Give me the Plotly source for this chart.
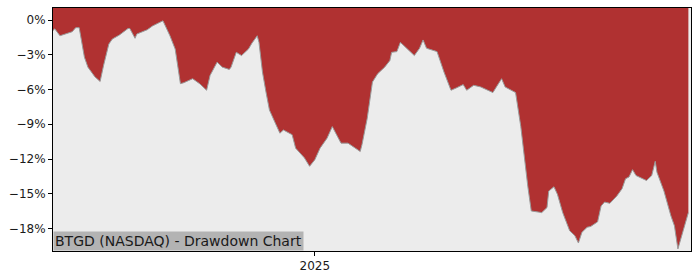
import plotly.graph_objects as go

dates = [
    "2024-08-04", "2024-08-05", "2024-08-08", "2024-08-15", "2024-08-17", "2024-08-19",
    "2024-08-22", "2024-08-24", "2024-08-28", "2024-08-31", "2024-09-02", "2024-09-05",
    "2024-09-07", "2024-09-11", "2024-09-16", "2024-09-17", "2024-09-20", "2024-09-21",
    "2024-09-27", "2024-09-30", "2024-10-04", "2024-10-06", "2024-10-10", "2024-10-13",
    "2024-10-16", "2024-10-18", "2024-10-23", "2024-10-27", "2024-10-31", "2024-11-02",
    "2024-11-03", "2024-11-06", "2024-11-09", "2024-11-13", "2024-11-14", "2024-11-17",
    "2024-11-20", "2024-11-24", "2024-11-26", "2024-11-29", "2024-11-30", "2024-12-02",
    "2024-12-04", "2024-12-06", "2024-12-09", "2024-12-12", "2024-12-14", "2024-12-19",
    "2024-12-21", "2024-12-26", "2024-12-29", "2025-01-01", "2025-01-04", "2025-01-08",
    "2025-01-11", "2025-01-13", "2025-01-16", "2025-01-20", "2025-01-27", "2025-01-28",
    "2025-01-31", "2025-02-03", "2025-02-06", "2025-02-10", "2025-02-13", "2025-02-14",
    "2025-02-17", "2025-02-19", "2025-02-23", "2025-02-27", "2025-03-02", "2025-03-04",
    "2025-03-06", "2025-03-12", "2025-03-16", "2025-03-20", "2025-03-23", "2025-03-27",
    "2025-03-29", "2025-04-02", "2025-04-06", "2025-04-13", "2025-04-15", "2025-04-18",
    "2025-04-20", "2025-04-26", "2025-04-29", "2025-05-01", "2025-05-03", "2025-05-05",
    "2025-05-11", "2025-05-14", "2025-05-15", "2025-05-18", "2025-05-20", "2025-05-23",
    "2025-05-27", "2025-05-30", "2025-06-01", "2025-06-03", "2025-06-06", "2025-06-08",
    "2025-06-12", "2025-06-14", "2025-06-16", "2025-06-19", "2025-06-23", "2025-06-26",
    "2025-06-28", "2025-06-30", "2025-07-02", "2025-07-04", "2025-07-10", "2025-07-13",
    "2025-07-15", "2025-07-16", "2025-07-20", "2025-07-24", "2025-07-26", "2025-07-28",
    "2025-07-30", "2025-07-31", "2025-08-03",
]

drawdown = [
    -0.9, -0.75, -1.35, -1.0, -0.65, -0.65,
    -3.2, -4.06, -4.9, -5.3, -3.9, -2.06,
    -1.63, -1.29, -0.72, -0.72, -1.57, -1.2,
    -0.83, -0.5, -0.2, -0.06, -1.35, -2.5,
    -5.49, -5.4, -5.06, -5.49, -6.06, -4.77,
    -4.49, -3.63, -4.06, -4.26, -4.06, -2.78,
    -3.06, -2.49, -1.98, -1.35, -1.92, -4.49,
    -6.2, -7.77, -8.78, -9.77, -9.49, -9.9,
    -11.06, -11.9, -12.63, -12.06, -11.06, -10.2,
    -9.2, -9.77, -10.63, -10.63, -11.35, -10.77,
    -8.5, -5.35, -4.63, -4.06, -3.49, -2.78,
    -2.72, -1.92, -2.49, -3.06, -2.43, -1.71,
    -2.43, -2.72, -4.49, -6.06, -5.86, -5.57,
    -6.06, -5.63, -5.77, -6.26, -5.77, -5.06,
    -5.77, -6.26, -9.2, -12.06, -14.35, -16.49,
    -16.63, -16.2, -14.77, -14.4, -15.06, -16.63,
    -18.2, -18.63, -19.26, -18.34, -17.9, -17.83,
    -17.43, -16.06, -15.72, -15.83, -15.2, -14.57,
    -13.71, -13.55, -12.92, -13.43, -13.86, -13.43,
    -12.2, -13.15, -14.77, -16.92, -17.77, -19.77,
    -18.86, -18.2, -16.63,
]

y_ticks = [0, -3, -6, -9, -12, -15, -18]
y_tick_labels = ["0%", "\u22123%", "\u22126%", "\u22129%", "\u221212%", "\u221215%", "\u221218%"]
x_ticks = ["2025-01-01"]
x_tick_labels = ["2025"]
title_text = "BTGD (NASDAQ) - Drawdown Chart"

y_min, y_max = -19.95, 1.05
x_range = ["2024-08-04", "2025-08-04 12:00"]

RED = "#b03131"
BG = "#ececec"

fig = go.Figure()
fig.add_trace(go.Scatter(
    x=dates, y=[y_max] * len(dates), mode="lines",
    line=dict(width=0, color=RED), hoverinfo="skip", showlegend=False,
))
fig.add_trace(go.Scatter(
    x=dates, y=drawdown, mode="lines", fill="tonexty", fillcolor=RED,
    line=dict(width=1, color="#9a9a9a"), showlegend=False,
))

fig.add_annotation(
    x=0, y=0, xref="paper", yref="paper", xanchor="left", yanchor="bottom",
    text=title_text, showarrow=False, bgcolor="#b3b3b3",
    font=dict(family="DejaVu Sans", size=14, color="#1a1a1a"),
    borderpad=1, xshift=0, yshift=0,
)

fig.update_layout(
    width=700, height=280,
    margin=dict(l=53, r=9, t=7, b=28),
    paper_bgcolor="white", plot_bgcolor=BG,
    font=dict(family="DejaVu Sans", size=12, color="#1a1a1a"),
    xaxis=dict(
        type="date", range=x_range, tickvals=x_ticks, ticktext=x_tick_labels,
        ticks="outside", ticklen=4, tickcolor="black", showgrid=False, zeroline=False,
        showline=True, linecolor="black", linewidth=1, mirror=True,
    ),
    yaxis=dict(
        range=[y_min, y_max], tickvals=y_ticks, ticktext=y_tick_labels,
        ticks="outside", ticklen=4, tickcolor="black", showgrid=False, zeroline=False,
        showline=True, linecolor="black", linewidth=1, mirror=True,
    ),
)

fig.write_html("out.html")
